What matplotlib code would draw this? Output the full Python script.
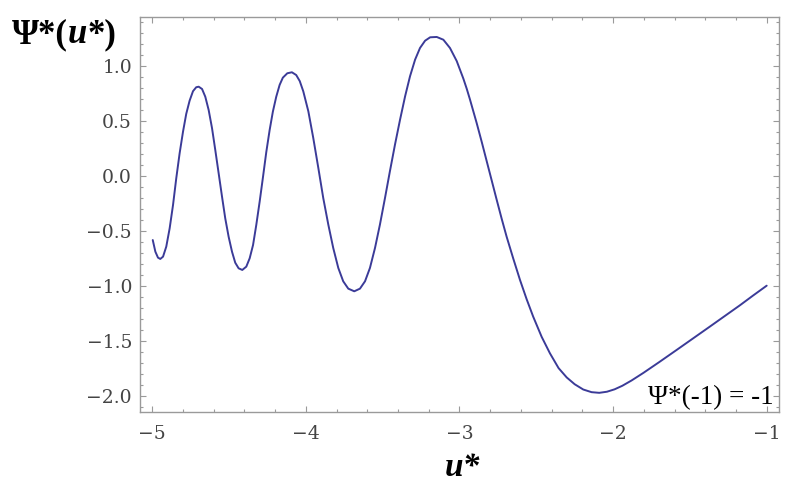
import numpy as np
import matplotlib
matplotlib.use("Agg")
import matplotlib.pyplot as plt
from matplotlib.ticker import MultipleLocator

# точки кривой
u_vals = [-4.997, -4.980, -4.963, -4.948, -4.930, -4.909, -4.887, -4.865, -4.844, -4.822,
          -4.800, -4.779, -4.757, -4.735, -4.714, -4.698, -4.676, -4.655, -4.633, -4.611,
          -4.590, -4.568, -4.546, -4.525, -4.503, -4.481, -4.460, -4.438, -4.414, -4.388,
          -4.366, -4.344, -4.323, -4.301, -4.279, -4.258, -4.236, -4.215, -4.193, -4.171,
          -4.150, -4.121, -4.091, -4.063, -4.040, -4.017, -3.984, -3.952, -3.919, -3.887,
          -3.854, -3.822, -3.789, -3.757, -3.724, -3.685, -3.648, -3.615, -3.583, -3.550,
          -3.518, -3.485, -3.453, -3.420, -3.387, -3.354, -3.322, -3.289, -3.257, -3.224,
          -3.191, -3.148, -3.105, -3.062, -3.018, -2.975, -2.953, -2.932, -2.888, -2.855,
          -2.823, -2.790, -2.758, -2.725, -2.693, -2.650, -2.606, -2.563, -2.520, -2.465,
          -2.411, -2.355, -2.302, -2.250, -2.194, -2.140, -2.090, -2.040, -1.990, -1.940,
          -1.880, -1.803, -1.700, -1.586, -1.480, -1.369, -1.270, -1.174, -1.090, -1.000]
psi_vals = [-0.585, -0.691, -0.745, -0.757, -0.736, -0.645, -0.479, -0.266, -0.024, 0.204,
            0.400, 0.562, 0.682, 0.768, 0.804, 0.809, 0.788, 0.718, 0.597, 0.431,
            0.234, 0.022, -0.191, -0.388, -0.555, -0.691, -0.791, -0.842, -0.857, -0.827,
            -0.751, -0.630, -0.448, -0.236, -0.009, 0.213, 0.415, 0.582, 0.718, 0.825,
            0.891, 0.931, 0.940, 0.915, 0.860, 0.767, 0.585, 0.343, 0.070, -0.203,
            -0.445, -0.657, -0.839, -0.960, -1.027, -1.051, -1.027, -0.960, -0.839, -0.657,
            -0.445, -0.203, 0.040, 0.282, 0.509, 0.722, 0.904, 1.055, 1.161, 1.227,
            1.258, 1.261, 1.236, 1.161, 1.042, 0.883, 0.791, 0.694, 0.478, 0.306,
            0.133, -0.045, -0.218, -0.393, -0.555, -0.753, -0.948, -1.122, -1.282, -1.465,
            -1.615, -1.749, -1.834, -1.896, -1.944, -1.968, -1.974, -1.964, -1.942, -1.910,
            -1.862, -1.793, -1.695, -1.584, -1.480, -1.371, -1.273, -1.178, -1.091, -1.000]

x_ticks = [-5, -4, -3, -2, -1]
y_ticks = [-2.0, -1.5, -1.0, -0.5, 0.0, 0.5, 1.0]

frame_col = "#9a9a9a"
line_col = "#3b3b98"

fig = plt.figure(figsize=(7.96, 4.92), dpi=100)
ax = fig.add_axes([0.1755, 0.162, 0.9786 - 0.1755, 0.966 - 0.162])

ax.plot(u_vals, psi_vals, color=line_col, lw=1.4, solid_capstyle="round",
        solid_joinstyle="round")

ax.set_xlim(-5.082, -0.92)
ax.set_ylim(-2.151, 1.445)
ax.set_xticks(x_ticks)
ax.set_yticks(y_ticks)
ax.set_yticklabels([f"{v:.1f}".replace("-", "\u2212") for v in y_ticks])
ax.xaxis.set_minor_locator(MultipleLocator(0.2))
ax.yaxis.set_minor_locator(MultipleLocator(0.1))

for s in ax.spines.values():
    s.set_color(frame_col)
    s.set_linewidth(1.0)

ax.tick_params(which="both", direction="in", top=True, right=True, color=frame_col, width=0.8)
ax.tick_params(which="major", length=4.5)
ax.tick_params(which="minor", length=2.5)
ax.tick_params(axis="y", labelsize=13.5, labelcolor="#444444", pad=5.5)
ax.tick_params(axis="x", labelsize=13.5, labelcolor="#444444", pad=9)
for lab in ax.get_xticklabels() + ax.get_yticklabels():
    lab.set_family("DejaVu Serif")

# подпись в углу
ax.text(-0.958, -2.075, "\u03a8*(-1) = -1", family="Liberation Serif", fontsize=19.5,
        color="black", ha="right", va="baseline")

# подпись оси x
fig.text(462 / 796, 1 - 476 / 492, "u*", family="Liberation Serif", fontsize=24,
         fontweight="bold", style="italic", ha="center", va="baseline")

# подпись оси y по кусочкам (u курсивом)
r = fig.canvas.get_renderer()
x0 = 12 / 796
y0 = 1 - 43 / 492
parts = [("\u03a8*(", "normal"), ("u", "italic"), ("*)", "normal")]
for txt, st in parts:
    t = fig.text(x0, y0, txt, family="Liberation Serif", fontsize=25, fontweight="bold",
                 style=st, ha="left", va="baseline")
    bb = t.get_window_extent(r)
    x0 = bb.x1 / fig.bbox.width

fig.savefig("out.png", dpi=100)
